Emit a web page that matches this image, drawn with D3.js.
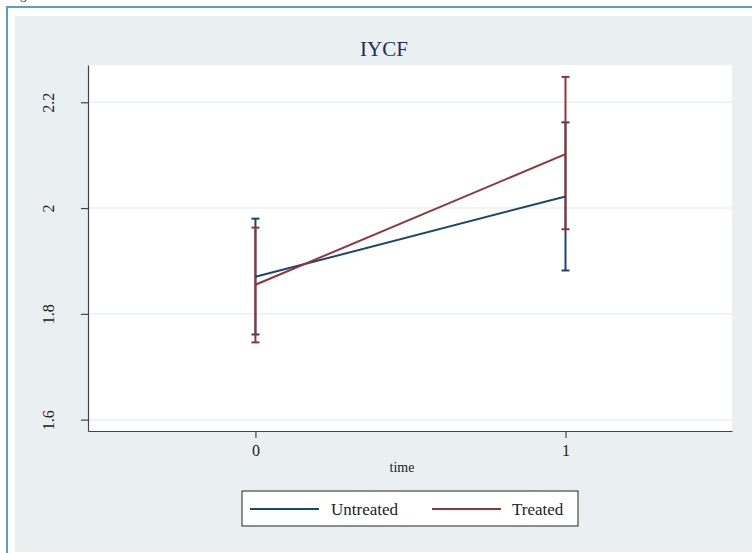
<!DOCTYPE html>
<html>
<head>
<meta charset="utf-8">
<script src="https://cdn.jsdelivr.net/npm/d3@7"></script>
<style>
  html, body { margin: 0; padding: 0; background: #ffffff; }
  svg { display: block; }
  text { font-family: "Liberation Serif", "DejaVu Serif", serif; }
</style>
</head>
<body>
<svg id="chart" width="752" height="553"></svg>
<script>
// Predicted IYCF score by time, with 95% confidence intervals
const times = [0, 1];
const timeTicks = [0, 1];
const yTicks = [1.6, 1.8, 2.0, 2.2];
const yTickLabels = ["1.6", "1.8", "2", "2.2"];

const untreatedMean = [1.870, 2.022];
const untreatedLow  = [1.761, 1.882];
const untreatedHigh = [1.980, 2.162];

const treatedMean = [1.855, 2.102];
const treatedLow  = [1.746, 1.960];
const treatedHigh = [1.963, 2.248];

const seriesNames = ["Untreated", "Treated"];
const seriesColors = ["#1a476f", "#90353b"];

const svg = d3.select("#chart");
const W = 752, H = 553;

// outer frame and graph region
svg.append("text").attr("x", 20).attr("y", -1).attr("font-size", 13).attr("fill", "#333").text("g");
svg.append("rect").attr("x", 7).attr("y", 7).attr("width", W + 10).attr("height", H + 10)
  .attr("fill", "#ffffff").attr("stroke", "#5b9bd5").attr("stroke-width", 2);
svg.append("rect").attr("x", 15).attr("y", 16).attr("width", W - 15).attr("height", 536)
  .attr("fill", "#eaf0f2");

const plot = { left: 88, right: 732, top: 65, bottom: 431 };

const x = d3.scaleLinear().domain([-0.54, 1.537]).range([plot.left, plot.right]);
const y = d3.scaleLinear().domain([1.5785, 2.2705]).range([plot.bottom, plot.top]);

// plot region
svg.append("rect").attr("x", plot.left).attr("y", plot.top)
  .attr("width", plot.right - plot.left).attr("height", plot.bottom - plot.top)
  .attr("fill", "#ffffff");

// horizontal grid lines
svg.append("g").selectAll("line").data(yTicks).join("line")
  .attr("x1", plot.left).attr("x2", plot.right)
  .attr("y1", d => y(d)).attr("y2", d => y(d))
  .attr("stroke", "#eaf0f2").attr("stroke-width", 1.5);

// y axis
const yAxis = d3.axisLeft(y).tickValues(yTicks)
  .tickFormat((d, i) => yTickLabels[i]).tickSize(7).tickSizeOuter(0);
const gy = svg.append("g").attr("transform", `translate(${plot.left},0)`).call(yAxis);
gy.select(".domain").attr("stroke", "#444").attr("stroke-width", 1.2);
gy.selectAll(".tick line").attr("stroke", "#444").attr("stroke-width", 1.2);
gy.selectAll(".tick text")
  .attr("font-family", "Liberation Serif, serif").attr("font-size", 16).attr("fill", "#222")
  .attr("x", 0).attr("dy", 0).attr("text-anchor", "middle")
  .attr("transform", "translate(-34,0) rotate(-90)");

// x axis
const xAxis = d3.axisBottom(x).tickValues(timeTicks).tickFormat(d3.format("d"))
  .tickSize(7).tickSizeOuter(0);
const gx = svg.append("g").attr("transform", `translate(0,${plot.bottom})`).call(xAxis);
gx.select(".domain").attr("stroke", "#444").attr("stroke-width", 1.2);
gx.selectAll(".tick line").attr("stroke", "#444").attr("stroke-width", 1.2);
gx.selectAll(".tick text")
  .attr("font-family", "Liberation Serif, serif").attr("font-size", 16).attr("fill", "#222")
  .attr("y", 14);

svg.append("text").attr("x", (plot.left + plot.right) / 2 - 8).attr("y", 472)
  .attr("text-anchor", "middle").attr("font-size", 14).attr("fill", "#222").text("time");

// title
svg.append("text").attr("x", 384).attr("y", 56).attr("text-anchor", "middle")
  .attr("font-size", 21).attr("fill", "#1e2b50").text("IYCF");

// series: error bars then connecting lines
const series = [
  { mean: untreatedMean, low: untreatedLow, high: untreatedHigh, color: seriesColors[0] },
  { mean: treatedMean, low: treatedLow, high: treatedHigh, color: seriesColors[1] }
];
const cap = 4;
const line = d3.line().x(d => x(d[0])).y(d => y(d[1]));

series.forEach(s => {
  const g = svg.append("g");
  times.forEach((t, i) => {
    g.append("line").attr("x1", x(t)).attr("x2", x(t))
      .attr("y1", y(s.low[i])).attr("y2", y(s.high[i]))
      .attr("stroke", s.color).attr("stroke-width", 2);
    [s.low[i], s.high[i]].forEach(v => {
      g.append("line").attr("x1", x(t) - cap).attr("x2", x(t) + cap)
        .attr("y1", y(v)).attr("y2", y(v))
        .attr("stroke", s.color).attr("stroke-width", 2);
    });
  });
});
series.forEach(s => {
  svg.append("path").datum(times.map((t, i) => [t, s.mean[i]]))
    .attr("d", line).attr("fill", "none")
    .attr("stroke", s.color).attr("stroke-width", 2);
});

// legend
const lg = svg.append("g");
lg.append("rect").attr("x", 242).attr("y", 491).attr("width", 336).attr("height", 35)
  .attr("fill", "#ffffff").attr("stroke", "#222").attr("stroke-width", 1);
const legendItems = [
  { name: seriesNames[0], color: seriesColors[0], x0: 250, tx: 331 },
  { name: seriesNames[1], color: seriesColors[1], x0: 432, tx: 512 }
];
legendItems.forEach(it => {
  lg.append("line").attr("x1", it.x0).attr("x2", it.x0 + 69).attr("y1", 509).attr("y2", 509)
    .attr("stroke", it.color).attr("stroke-width", 2);
  lg.append("text").attr("x", it.tx).attr("y", 515).attr("font-size", 17)
    .attr("fill", "#222").text(it.name);
});
</script>
</body>
</html>
